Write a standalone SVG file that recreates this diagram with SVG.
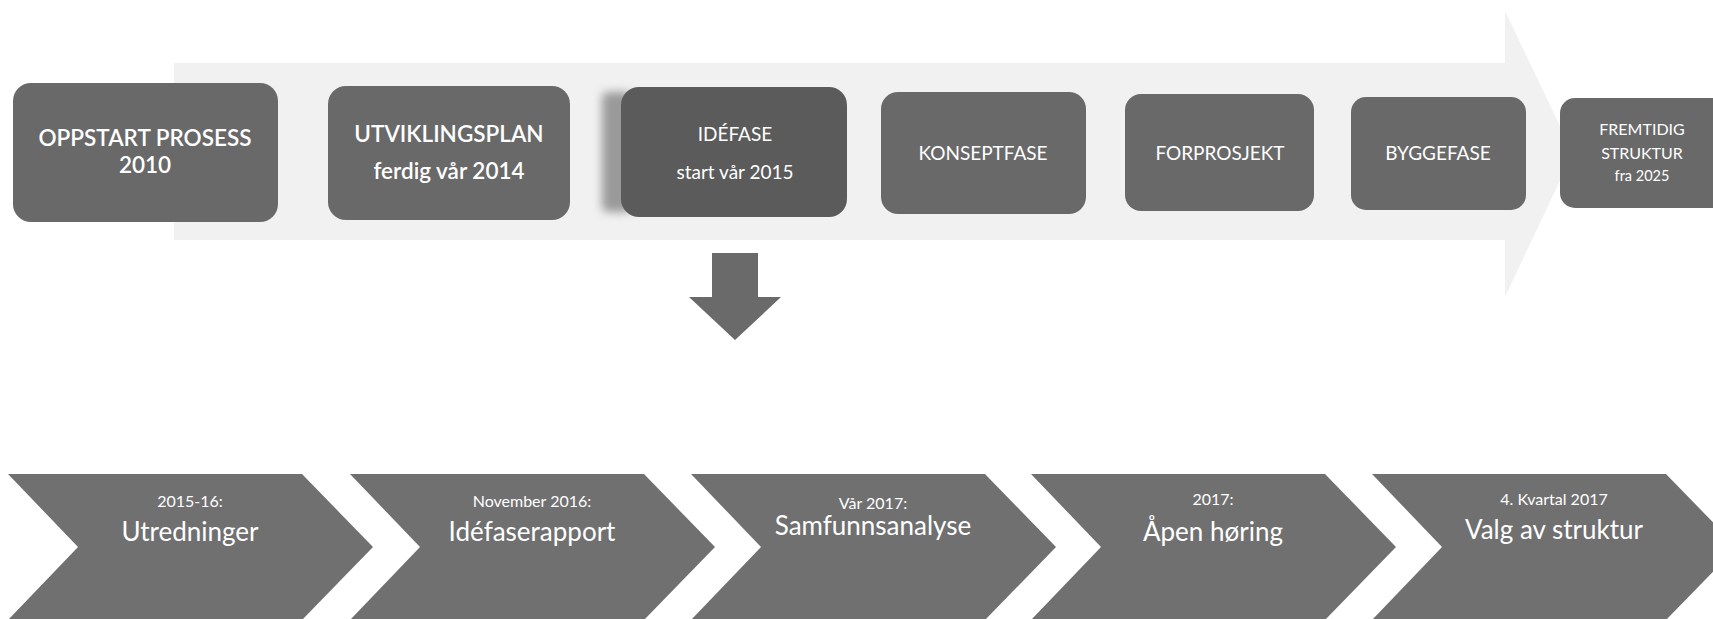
<svg xmlns="http://www.w3.org/2000/svg" width="1713" height="619" viewBox="0 0 1713 619">
  <defs>
    <style>
      .band { fill: #f1f1f1; }
      .box { fill: #696969; }
      .box-active { fill: #5b5b5b; }
      .chev { fill: #707070; }
      .arrow { fill: #6a6a6a; }
      text { font-family: Lato, "Open Sans", "Liberation Sans", sans-serif; fill: #ffffff; text-anchor: middle; }
      .t-bold { font-weight: 600; font-size: 22.5px; }
      .t-reg { font-size: 19px; }
      .t-sub { font-size: 19px; }
      .c-small { font-size: 16px; }
      .c-big { font-size: 26px; }
    </style>
    <filter id="soft" x="-50%" y="-20%" width="200%" height="140%">
      <feGaussianBlur stdDeviation="5"/>
    </filter>
  </defs>

  <rect width="1713" height="619" fill="#ffffff"/>

  <!-- faint background arrow behind the phase boxes -->
  <path class="band" d="M174,63 L1505,63 L1505,11 L1573,153 L1505,297 L1505,240 L174,240 Z"/>

  <!-- phase boxes -->
  <g id="oppstart">
    <rect class="box" x="13" y="83" width="265" height="139" rx="18"/>
    <text class="t-bold" x="145" y="146">OPPSTART PROSESS</text>
    <text class="t-bold" x="145" y="173">2010</text>
  </g>

  <g id="utviklingsplan">
    <rect class="box" x="328" y="86" width="242" height="134" rx="18"/>
    <text class="t-bold" x="449" y="142">UTVIKLINGSPLAN</text>
    <text class="t-bold" x="449" y="179" font-size="20">ferdig vår 2014</text>
  </g>

  <g id="idefase">
    <rect x="602" y="92" width="30" height="120" rx="6" fill="#9a9a9a" filter="url(#soft)"/>
    <rect class="box-active" x="621" y="87" width="226" height="130" rx="18"/>
    <text class="t-reg" x="735" y="141" font-size="20">IDÉFASE</text>
    <text class="t-sub" x="735" y="179">start vår 2015</text>
  </g>

  <g id="konseptfase">
    <rect class="box" x="881" y="92" width="205" height="122" rx="17"/>
    <text class="t-reg" x="983" y="160">KONSEPTFASE</text>
  </g>

  <g id="forprosjekt">
    <rect class="box" x="1125" y="94" width="189" height="117" rx="16"/>
    <text class="t-reg" x="1220" y="160" font-size="18">FORPROSJEKT</text>
  </g>

  <g id="byggefase">
    <rect class="box" x="1351" y="97" width="175" height="113" rx="15"/>
    <text class="t-reg" x="1438" y="160" font-size="16">BYGGEFASE</text>
  </g>

  <g id="fremtidig">
    <rect class="box" x="1560" y="98" width="166" height="110" rx="15"/>
    <text x="1642" y="135" font-size="16">FREMTIDIG</text>
    <text x="1642" y="159" font-size="16">STRUKTUR</text>
    <text x="1642" y="181" font-size="14.5">fra 2025</text>
  </g>

  <!-- connectors -->
  <g id="connectors">
    <path class="arrow" d="M712,253 L758,253 L758,297 L781,297 L735,340 L689,297 L712,297 Z"/>
  </g>

  <!-- milestone chevrons -->
  <g id="utredninger">
    <path class="chev" d="M8,474 L302,474 L373,547 L302,620 L8,620 L78,547 Z"/>
    <text class="c-small" x="190" y="507">2015-16:</text>
    <text class="c-big" x="190" y="541">Utredninger</text>
  </g>

  <g id="idefaserapport">
    <path class="chev" d="M350,474 L644,474 L715,547 L644,620 L350,620 L420,547 Z"/>
    <text class="c-small" x="532" y="507">November 2016:</text>
    <text class="c-big" x="532" y="541">Idéfaserapport</text>
  </g>

  <g id="samfunnsanalyse">
    <path class="chev" d="M691,474 L985,474 L1056,547 L985,620 L691,620 L761,547 Z"/>
    <text class="c-small" x="873" y="509">Vår 2017:</text>
    <text class="c-big" x="873" y="535">Samfunnsanalyse</text>
  </g>

  <g id="apen-horing">
    <path class="chev" d="M1031,474 L1325,474 L1396,547 L1325,620 L1031,620 L1101,547 Z"/>
    <text class="c-small" x="1213" y="505">2017:</text>
    <text class="c-big" x="1213" y="541">Åpen høring</text>
  </g>

  <g id="valg-av-struktur">
    <path class="chev" d="M1372,474 L1666,474 L1737,547 L1666,620 L1372,620 L1442,547 Z"/>
    <text class="c-small" x="1554" y="505">4. Kvartal 2017</text>
    <text class="c-big" x="1554" y="539">Valg av struktur</text>
  </g>
</svg>
